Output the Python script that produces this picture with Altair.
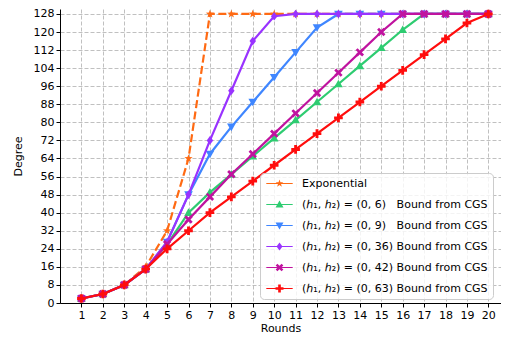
import math
import altair as alt
import pandas as pd

rounds = list(range(1, 21))
exponential = [2, 4, 8, 16, 32, 64, 128, 128, 128, 128, 128, 128, 128, 128, 128, 128, 128, 128, 128, 128]
h_0_6 = [2, 4, 8, 15, 26, 40, 49, 57, 65, 73, 81, 89, 97, 105, 113, 121, 128, 128, 128, 128]
h_0_9 = [2, 4, 8, 15, 27, 48, 66, 78, 89, 100, 111, 122, 128, 128, 128, 128, 128, 128, 128, 128]
h_0_36 = [2, 4, 8, 15, 27, 48, 72, 94, 116, 127, 128, 128, 128, 128, 128, 128, 128, 128, 128, 128]
h_0_42 = [2, 4, 8, 15, 26, 37, 47, 57, 66, 75, 84, 93, 102, 111, 120, 128, 128, 128, 128, 128]
h_0_63 = [2, 4, 8, 15, 24, 32, 40, 47, 54, 61, 68, 75, 82, 89, 96, 103, 110, 117, 124, 128]

FS = "\u2007"
labels = [
    "Exponential",
    "(ℎ₁, ℎ₂) = (0, 6)" + FS + " Bound from CGS",
    "(ℎ₁, ℎ₂) = (0, 9)" + FS + " Bound from CGS",
    "(ℎ₁, ℎ₂) = (0, 36) Bound from CGS",
    "(ℎ₁, ℎ₂) = (0, 42) Bound from CGS",
    "(ℎ₁, ℎ₂) = (0, 63) Bound from CGS",
]
series_values = [exponential, h_0_6, h_0_9, h_0_36, h_0_42, h_0_63]
colors = ["#ff6a13", "#2ecc71", "#3f86ff", "#9933ff", "#c0139f", "#ff0d0d"]


def poly(points):
    return "M" + " L".join(f"{x:.3f},{y:.3f}" for x, y in points) + " Z"


def star():
    pts = []
    for k in range(10):
        r = 1.0 if k % 2 == 0 else 0.40
        a = math.radians(-90 + 36 * k)
        pts.append((r * math.cos(a), r * math.sin(a)))
    return poly(pts)


def plus(w=0.33, rot=0.0, scale=1.0):
    base = [(-w, -1), (w, -1), (w, -w), (1, -w), (1, w), (w, w), (w, 1), (-w, 1),
            (-w, w), (-1, w), (-1, -w), (-w, -w)]
    c, s = math.cos(rot), math.sin(rot)
    return poly([((x * c - y * s) * scale, (x * s + y * c) * scale) for x, y in base])


markers = [
    star(),
    poly([(0, -1), (1, 0.75), (-1, 0.75)]),
    poly([(-1, -0.75), (1, -0.75), (0, 1)]),
    poly([(0, -1), (0.75, 0), (0, 1), (-0.75, 0)]),
    plus(0.3, math.radians(45), 1.05),
    plus(0.33),
]
bar = " M-3.3,-0.14 L3.3,-0.14 L3.3,0.14 L-3.3,0.14 Z"
legend_shapes = [m + bar for m in markers]

X_MAX = 20.59
Y_MAX = 130.2

layers = []
for i, (lab, vals) in enumerate(zip(labels, series_values)):
    df = pd.DataFrame({"Rounds": rounds, "Degree": vals})
    line_kwargs = dict(color=colors[i], strokeWidth=2.2)
    if i == 0:
        line_kwargs["strokeDash"] = [8, 3.5]
    line = alt.Chart(df).mark_line(**line_kwargs).encode(
        x=alt.X("Rounds:Q"), y=alt.Y("Degree:Q"))
    pts = alt.Chart(df).mark_point(filled=True, shape=markers[i], size=75,
                                   color=colors[i], opacity=1).encode(
        x=alt.X("Rounds:Q"), y=alt.Y("Degree:Q"))
    layers += [line, pts]

# top spine
top_spine = alt.Chart(pd.DataFrame({"Degree": [Y_MAX]})).mark_rule(
    color="black", strokeWidth=1).encode(y=alt.Y("Degree:Q"))

# legend-only layer (points lie outside the plotted domain and are clipped)
leg_df = pd.DataFrame({"Rounds": [-5] * 6, "Degree": [-5] * 6, "Series": labels})
legend_layer = alt.Chart(leg_df).mark_point(filled=True, clip=True, opacity=1).encode(
    x=alt.X("Rounds:Q"), y=alt.Y("Degree:Q"),
    color=alt.Color("Series:N", sort=labels,
                    scale=alt.Scale(domain=labels, range=colors),
                    legend=alt.Legend(title=None, orient="none", legendX=200, legendY=164,
                                      symbolSize=64, symbolStrokeWidth=0, symbolOpacity=1,
                                      symbolOffset=9, labelOffset=17, padding=5,
                                      rowPadding=9, labelFontSize=11, labelFont="DejaVu Sans",
                                      labelColor="black", labelLimit=400,
                                      fillColor="rgba(255,255,255,0.8)", strokeColor="#cccccc",
                                      cornerRadius=4)),
    shape=alt.Shape("Series:N", sort=labels,
                    scale=alt.Scale(domain=labels, range=legend_shapes)),
)

x_axis = alt.Axis(values=rounds, title="Rounds", grid=True, titlePadding=2)
y_axis = alt.Axis(values=list(range(0, 129, 8)), title="Degree", grid=True, titlePadding=10)

chart = alt.layer(*layers, top_spine, legend_layer).encode(
    x=alt.X("Rounds:Q", scale=alt.Scale(domain=[0, X_MAX], nice=False, zero=False), axis=x_axis),
    y=alt.Y("Degree:Q", scale=alt.Scale(domain=[0, Y_MAX], nice=False), axis=y_axis),
).properties(
    width=441, height=294,
    padding={"left": 52, "top": 1, "right": 0, "bottom": 30},
    autosize=alt.AutoSizeParams(type="none"),
    background="white",
).configure_view(strokeWidth=0).configure_axis(
    labelFont="DejaVu Sans", labelFontSize=11, labelColor="black",
    titleFont="DejaVu Sans", titleFontSize=11, titleFontWeight="normal", titleColor="black",
    tickColor="black", tickSize=4, domainColor="black", labelPadding=2,
    gridColor="#b0b0b0", gridDash=[4, 2], gridWidth=0.8,
)

chart.save("out.html", embed_options={"renderer": "svg", "actions": False})
